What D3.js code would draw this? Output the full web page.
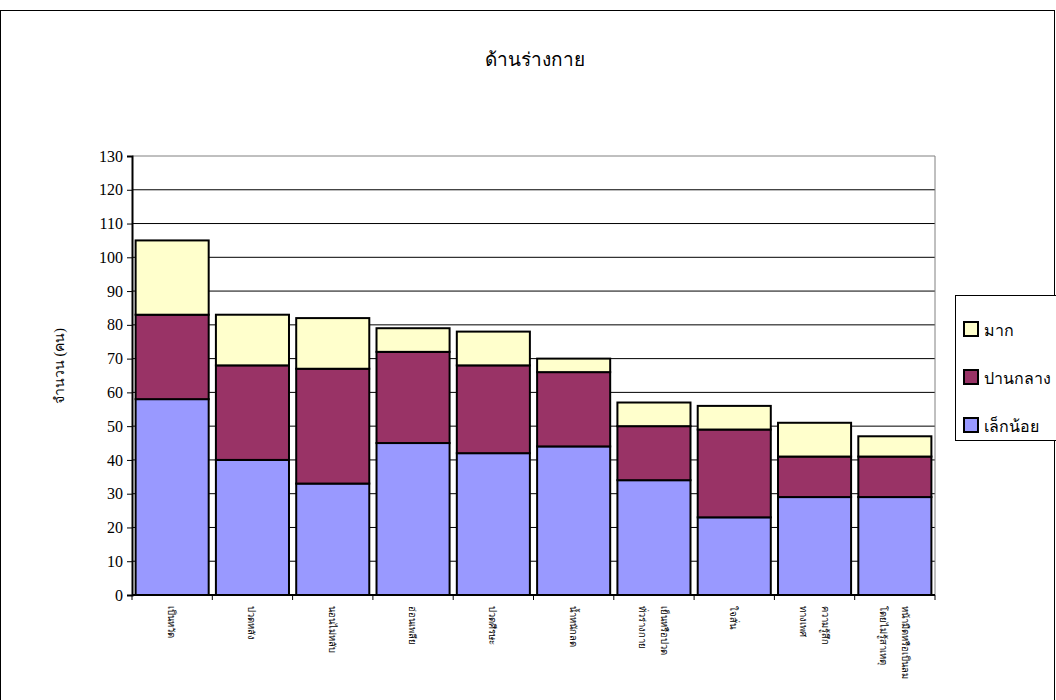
<!DOCTYPE html>
<html><head><meta charset="utf-8">
<script src="https://cdn.jsdelivr.net/npm/d3@7"></script>
<style>
body{margin:0;background:#fff;}
text{font-family:"Liberation Serif","Times New Roman","Noto Sans",serif;fill:#000;}
</style></head>
<body><svg id="c" width="1056" height="700"></svg>
<script>
const categories = [
  ["เป็นหวัด"], ["ปวดหลัง"], ["นอนไม่หลับ"], ["อ่อนเพลีย"], ["ปวดศีรษะ"],
  ["น้ำหนักลด"], ["เย็นหรือปวด","ทั่วร่างกาย"], ["ใจสั่น"], ["ความรู้สึก","ทางเพศ"],
  ["หน้ามืดหรือเป็นลม","โดยไม่รู้สาเหตุ"]
];
const seriesNames = ["เล็กน้อย","ปานกลาง","มาก"];
const little = [58,40,33,45,42,44,34,23,29,29];
const moderate = [25,28,34,27,26,22,16,26,12,12];
const much = [22,15,15,7,10,4,7,7,10,6];
const colors = ["#9999FF","#993366","#FFFFCC"];
const yTicks = d3.range(0,131,10);
const title = "ด้านร่างกาย";
const yLabel = "จำนวน (คน)";

const svg = d3.select("#c");
const L=132,R=935,T=156,B=595;
svg.append("rect").attr("x",0.5).attr("y",10.5).attr("width",1054).attr("height",700).attr("fill","none").attr("stroke","#000");

const x = d3.scaleBand().domain(d3.range(categories.length)).range([L,R]).paddingInner(0.09).paddingOuter(0.045);
const y = d3.scaleLinear().domain([0,130]).range([B,T]);

svg.append("g").selectAll("line").data(yTicks.filter(d=>d>0)).join("line")
  .attr("x1",L).attr("x2",R).attr("y1",d=>y(d)).attr("y2",d=>y(d)).attr("stroke",d=>d===130?"#808080":"#000").attr("stroke-width",1);
svg.append("line").attr("x1",R).attr("x2",R).attr("y1",T).attr("y2",B).attr("stroke","#808080");

const rows = categories.map((c,i)=>({i, "เล็กน้อย":little[i],"ปานกลาง":moderate[i],"มาก":much[i]}));
const stack = d3.stack().keys(seriesNames)(rows);
svg.append("g").selectAll("g").data(stack).join("g").attr("fill",(d,k)=>colors[k])
  .selectAll("rect").data(d=>d).join("rect")
  .attr("x",d=>x(d.data.i)).attr("width",x.bandwidth())
  .attr("y",d=>y(d[1])).attr("height",d=>y(d[0])-y(d[1]))
  .attr("stroke","#000").attr("stroke-width",2);

const ya = svg.append("g").attr("transform",`translate(${L},0)`).call(d3.axisLeft(y).tickValues(yTicks).tickSize(5).tickPadding(4));
ya.select(".domain").attr("stroke-width",2);
ya.selectAll("text").attr("font-size",16).attr("font-family","Liberation Serif");
const bounds = d3.range(categories.length+1).map(i=>L+(R-L)*i/categories.length);
svg.append("line").attr("x1",L).attr("x2",R).attr("y1",B).attr("y2",B).attr("stroke","#000").attr("stroke-width",2);
svg.append("g").selectAll("line").data(bounds).join("line").attr("x1",d=>d).attr("x2",d=>d).attr("y1",B).attr("y2",B+5).attr("stroke","#000");
const xl = svg.append("g").selectAll("g").data(categories).join("g")
  .attr("transform",(d,i)=>`translate(${x(i)+x.bandwidth()/2},606) rotate(90)`);
xl.each(function(lines){
  const g=d3.select(this); const n=lines.length;
  lines.forEach((t,j)=>{
    g.append("text").attr("x",0).attr("y",(j-(n-1)/2)*22 + 4).attr("font-size",9.5).text(t);
  });
});

svg.append("text").attr("x",535).attr("y",66).attr("text-anchor","middle").attr("font-size",19).text(title);
svg.append("text").attr("transform","translate(64,366) rotate(-90)").attr("text-anchor","middle").attr("font-size",14).text(yLabel);

svg.append("rect").attr("x",955.5).attr("y",295.5).attr("width",110).attr("height",145).attr("fill","#fff").attr("stroke","#000");
const legItems = ["มาก","ปานกลาง","เล็กน้อย"];
const legColors = ["#FFFFCC","#993366","#9999FF"];
legItems.forEach((t,k)=>{
  const cy = 330 + k*48;
  svg.append("rect").attr("x",964).attr("y",cy-8).attr("width",14).attr("height",14).attr("fill",legColors[k]).attr("stroke","#000").attr("stroke-width",2);
  svg.append("text").attr("x",984).attr("y",cy+6).attr("font-size",16).text(t);
});
</script></body></html>
